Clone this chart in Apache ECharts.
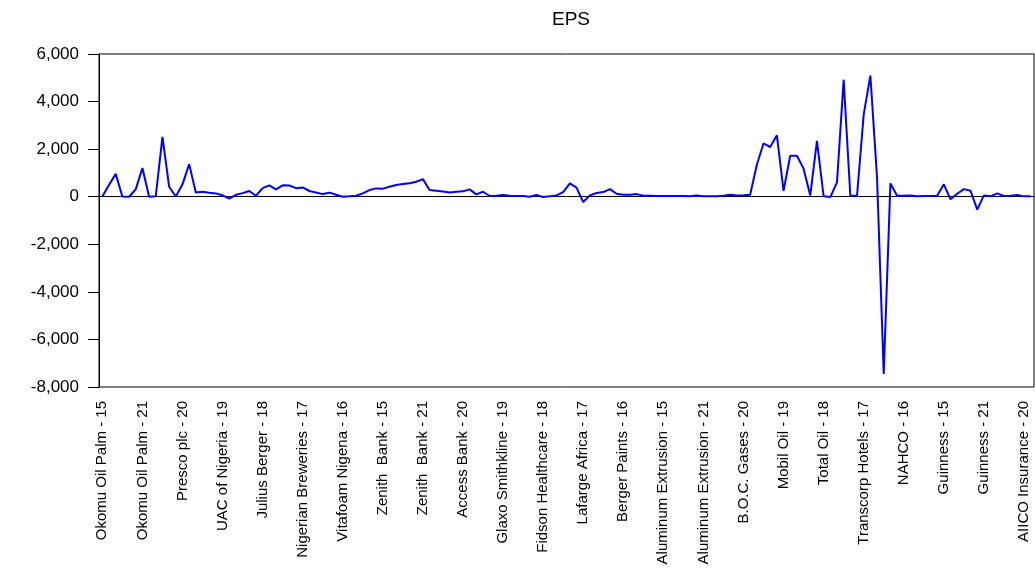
<!DOCTYPE html>
<html>
<head>
<meta charset="utf-8">
<title>EPS</title>
<script src="https://cdn.jsdelivr.net/npm/echarts@6/dist/echarts.min.js"></script>
<style>
  html, body { margin: 0; padding: 0; background: #fff; }
</style>
</head>
<body>
<div id="myChart" style="width: 1035px; height: 569px;"></div>
<script>
  // firms and years, one point per firm-year
  const companies = ['Okomu Oil Palm', 'Presco plc', 'UAC of Nigeria', 'Julius Berger',
    'Nigerian Breweries', 'Vitafoam Nigena', 'Zenith  Bank', 'Access Bank',
    'Glaxo Smithkline', 'Fidson Healthcare', 'Lafarge Africa', 'Berger Paints',
    'Aluminum Extrusion', 'B.O.C. Gases', 'Mobil Oil', 'Total Oil',
    'Transcorp Hotels', 'NAHCO', 'Guinness', 'AIICO Insurance'];
  const years = ['15', '16', '17', '18', '19', '20', '21'];

  // EPS, 7 values per firm
  const eps = [
    10, 490, 960, 10, 0, 310, 1210,
    0, 20, 2520, 420, 10, 520, 1370,
    180, 210, 170, 140, 60, -80, 80,
    150, 240, 40, 360, 480, 310, 480,
    470, 360, 390, 240, 180, 110, 170,
    80, 0, 15, 40, 140, 280, 350,
    340, 420, 490, 530, 570, 630, 740,
    280, 250, 220, 180, 210, 225, 310,
    100, 210, 30, 40, 70, 40, 30,
    30, 0, 70, -15, 15, 55, 195,
    560, 380, -225, 55, 155, 195, 320,
    125, 85, 85, 110, 40, 40, 35,
    35, 30, 30, 25, 15, 55, 15,
    15, 15, 40, 85, 55, 60, 84,
    1345, 2240, 2090, 2580, 250, 1720, 1720,
    1180, 55, 2350, 15, -15, 600, 4920,
    40, 40, 3450, 5090, 800, -7450, 560,
    40, 40, 55, 15, 30, 30, 40,
    520, -110, 125, 320, 250, -545, 55,
    15, 140, 30, 40, 70, 15, 15
  ];

  const categories = [];
  companies.forEach(function (c) {
    years.forEach(function (y) {
      categories.push(c + ' - ' + y);
    });
  });

  let myChart = echarts.init(document.getElementById('myChart'));

  myChart.setOption({
    animation: false,
    backgroundColor: '#fff',
    title: {
      text: 'EPS',
      left: 566,
      top: 5,
      textAlign: 'center',
      textStyle: {
        color: '#000',
        fontFamily: 'Liberation Sans',
        fontSize: 19,
        fontWeight: 'normal'
      }
    },
    grid: {
      left: 99,
      right: 1,
      top: 54,
      bottom: 182,
      show: true,
      borderColor: '#000',
      borderWidth: 1,
      outerBoundsMode: 'none'
    },
    xAxis: {
      type: 'category',
      data: categories,
      boundaryGap: true,
      axisLine: { lineStyle: { color: '#000', width: 1 } },
      axisTick: {
        interval: 1,
        length: 7,
        lineStyle: { color: '#000' }
      },
      axisLabel: {
        interval: 5,
        rotate: 90,
        margin: 14,
        color: '#000',
        fontFamily: 'Liberation Sans',
        fontSize: 15
      },
      splitLine: { show: false }
    },
    yAxis: {
      type: 'value',
      min: -8000,
      max: 6000,
      interval: 2000,
      axisLine: { show: true, lineStyle: { color: '#000', width: 1 } },
      axisTick: { show: true, length: 11, lineStyle: { color: '#000' } },
      axisLabel: {
        margin: 20,
        color: '#000',
        fontFamily: 'Liberation Sans',
        fontSize: 17,
        formatter: function (v) {
          return v.toLocaleString('en-US');
        }
      },
      splitLine: { show: false }
    },
    series: [{
      type: 'line',
      data: eps,
      symbol: 'none',
      lineStyle: { color: '#0000ff', width: 2 }
    }]
  });
</script>
</body>
</html>
